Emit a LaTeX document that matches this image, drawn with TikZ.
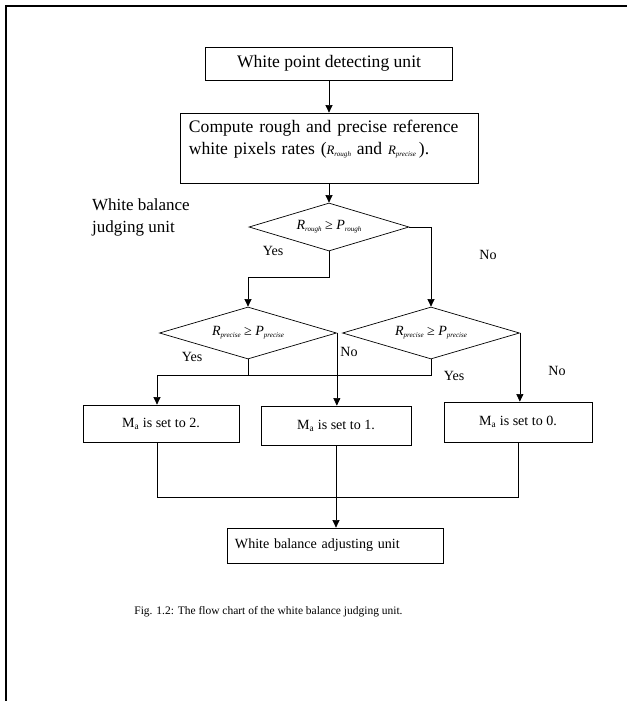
\documentclass[tikz,border=0pt]{standalone}
\usepackage{fontspec}
\setmainfont{Liberation Serif}
\usetikzlibrary{shapes.geometric,arrows.meta}
\newcommand{\varsub}[2]{\textit{#1}\raisebox{-0.35ex}{\fontsize{6}{6}\selectfont\textit{#2}}}
\newcommand{\Mrate}{M\textsubscript{a}}

\begin{document}
\begin{tikzpicture}[
  x=0.03cm, y=-0.03cm,
  block/.style={draw, line width=0.6pt, inner sep=0pt, align=center,
                font=\fontsize{12}{14}\selectfont},
  decision/.style={diamond, draw, line width=0.6pt, aspect=3.3, inner sep=0pt,
                   font=\fontsize{12}{14}\selectfont},
  arr/.style={-{Triangle[width=6pt,length=6.5pt]}, line width=0.6pt},
  wire/.style={line width=0.6pt},
  lbl/.style={font=\fontsize{12}{14}\selectfont},
]
  \useasboundingbox (0,0) rectangle (627,701);
  % page frame
  \draw[line width=1.6pt] (6,701) -- (6,6) -- (627,6);

  \node[block, minimum width=7.41cm, minimum height=0.99cm, font=\fontsize{15}{18}\selectfont] (detect) at (329,63.5) {White point detecting unit};
  \node[block, minimum width=8.94cm, minimum height=2.1cm, text width=8.4cm, align=left,
        font=\fontsize{15}{18.8}\selectfont] (rates) at (329,148)
    {Compute rough and precise reference\\white pixels rates ({\fontsize{11}{12}\selectfont\varsub{R}{rough}} and {\fontsize{11}{12}\selectfont\varsub{R}{precise}}\,).\\\mbox{}};

  \node[align=left, anchor=west, font=\fontsize{14.5}{18.8}\selectfont] (judge) at (88,217) {White balance\\judging unit};

  % decisions
  \node[decision, minimum width=4.8cm, minimum height=1.44cm] (rough) at (329,227) {\varsub{R}{rough}~≥~\varsub{P}{rough}};
  \node[decision, minimum width=5.31cm, minimum height=1.56cm] (preciseL) at (248,333) {\varsub{R}{precise}~≥~\varsub{P}{precise}};
  \node[decision, minimum width=5.31cm, minimum height=1.56cm] (preciseR) at (431,333) {\varsub{R}{precise}~≥~\varsub{P}{precise}};

  % results
  \node[block, minimum width=4.68cm, minimum height=1.11cm] (set2) at (161,423.5) {\Mrate{} is set to 2.};
  \node[block, minimum width=4.5cm, minimum height=1.17cm] (set1) at (336,425.5) {\Mrate{} is set to 1.};
  \node[block, minimum width=4.44cm, minimum height=1.2cm] (set0) at (518,422) {\Mrate{} is set to 0.};
  \node[block, minimum width=6.48cm, minimum height=1.05cm, text width=6.0cm, align=left] (adjust) at (335,545.5) {White balance adjusting unit};

  \node[lbl] (yes1) at (273,251) {Yes};
  \node[lbl] (no1) at (488,255) {No};
  \node[lbl] (yes2) at (192,357) {Yes};
  \node[lbl] (no2) at (349,352) {No};
  \node[lbl] (yes3) at (454,376) {Yes};
  \node[lbl] (no3) at (557,371) {No};

  \node[font=\fontsize{9.8}{12}\selectfont] (caption) at (268.5,612) {Fig. 1.2: The flow chart of the white balance judging unit.};

  \draw[arr] (detect.south) -- (rates.north);
  \draw[arr] (rates.south) -- (rough.north);
  \draw[arr] (rough.south) -- ++(0,26) -| (preciseL.north);
  \draw[arr] (rough.east) -| (preciseR.north);
  \coordinate (yesjoin) at (157,375);
  \draw[wire] (preciseL.south) -- (preciseL.south |- yesjoin);
  \draw[wire] (preciseR.south) -- (preciseR.south |- yesjoin) -- (yesjoin);
  \draw[arr] (yesjoin) -- (yesjoin |- set2.north);
  \draw[arr] (preciseL.east) -- (preciseL.east |- set1.north);
  \draw[arr] (preciseR.east) -- (preciseR.east |- set0.north);
  \draw[wire] (set2.south -| yesjoin) -- ++(0,55) -| (set0.south);
  \draw[arr] (set1.south) -- (set1.south |- adjust.north);
\end{tikzpicture}
\end{document}
